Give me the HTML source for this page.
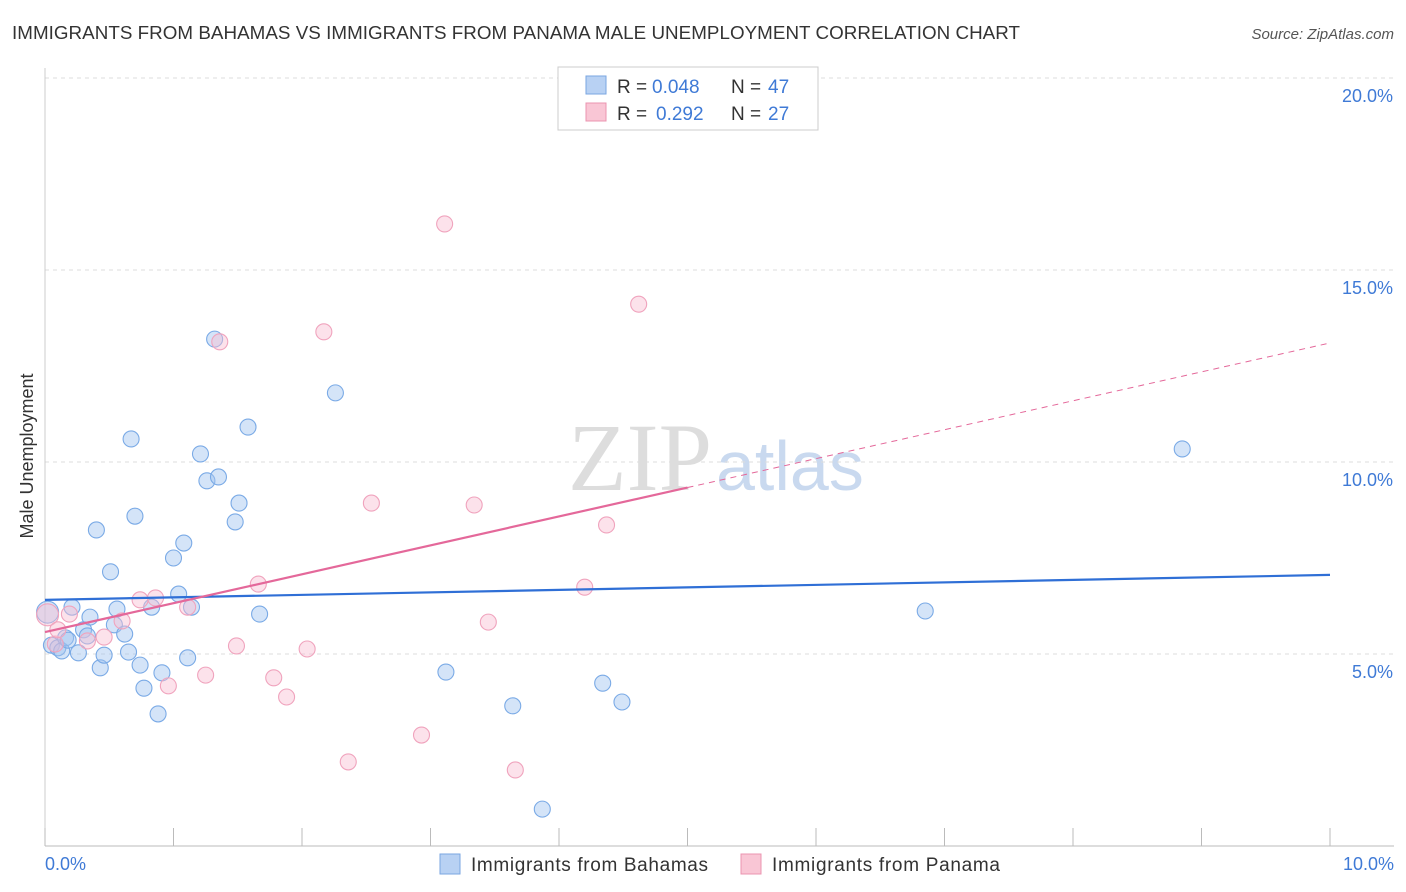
<!DOCTYPE html>
<html><head><meta charset="utf-8"><style>
body{margin:0;background:#fff;font-family:"Liberation Sans",sans-serif;}
#wrap{position:relative;width:1406px;height:892px;overflow:hidden;}
</style></head><body>
<div id="wrap">
<svg id="svg" width="1406" height="892" xmlns="http://www.w3.org/2000/svg">
<text x="12" y="39" font-size="18.8" fill="#333" textLength="1008">IMMIGRANTS FROM BAHAMAS VS IMMIGRANTS FROM PANAMA MALE UNEMPLOYMENT CORRELATION CHART</text>
<text x="1394" y="39" font-size="15" fill="#555" font-style="italic" text-anchor="end">Source: ZipAtlas.com</text>
<text x="712" y="490" font-size="96" fill="#ddd" text-anchor="end" font-family="Liberation Serif,serif">ZIP</text>
<text x="716" y="490" font-size="70" fill="#c9d9ef">atlas</text>
<g id="grid"></g><g id="pts"></g><g id="lines"></g>
<text transform="translate(33,456) rotate(-90)" font-size="18" fill="#333" text-anchor="middle">Male Unemployment</text>
<g>
<rect x="558" y="67" width="260" height="63" fill="#fff" stroke="#ccc"/>
<rect x="586" y="76" width="20" height="18" fill="#b8d1f3" stroke="#7aa6e0"/>
<rect x="586" y="103" width="20" height="18" fill="#f9c6d5" stroke="#eb94b0"/>
<text y="93" font-size="19" fill="#333"><tspan x="617">R =</tspan><tspan x="652" fill="#3f7ad6">0.048</tspan><tspan x="731">N =</tspan><tspan x="768" fill="#3f7ad6">47</tspan></text>
<text y="120" font-size="19" fill="#333"><tspan x="617">R =</tspan><tspan x="656" fill="#3f7ad6">0.292</tspan><tspan x="731">N =</tspan><tspan x="768" fill="#3f7ad6">27</tspan></text>
</g>
<g>
<rect x="440" y="854" width="20" height="20" fill="#b8d1f3" stroke="#7aa6e0"/>
<text x="471" y="871" font-size="19" fill="#333" textLength="237">Immigrants from Bahamas</text>
<rect x="741" y="854" width="20" height="20" fill="#f9c6d5" stroke="#eb94b0"/>
<text x="772" y="871" font-size="19" fill="#333" textLength="228">Immigrants from Panama</text>
</g>
</svg>
</div>
<script>
const yTicks=[5,10,15,20];
const yTickLabels=["5.0%","10.0%","15.0%","20.0%"];
const xTickLabels=["0.0%","10.0%"];
const bahamasX=[0.02,0.05,0.10,0.13,0.16,0.18,0.21,0.26,0.30,0.33,0.35,0.40,0.43,0.46,0.51,0.54,0.56,0.62,0.65,0.67,0.70,0.74,0.77,0.83,0.88,0.91,1.00,1.04,1.08,1.11,1.14,1.21,1.26,1.32,1.35,1.48,1.51,1.58,1.67,2.26,3.12,3.64,3.87,4.34,4.49,6.85,8.85];
const bahamasY=[6.09,5.23,5.16,5.08,5.42,5.36,6.22,5.03,5.63,5.47,5.96,8.23,4.64,4.97,7.14,5.76,6.17,5.52,5.05,10.60,8.59,4.71,4.11,6.22,3.44,4.51,7.50,6.56,7.89,4.90,6.22,10.21,9.51,13.20,9.61,8.44,8.93,10.91,6.04,11.80,4.53,3.65,0.96,4.24,3.75,6.12,10.34];
const panamaX=[0.02,0.08,0.10,0.19,0.33,0.46,0.60,0.74,0.86,0.96,1.11,1.25,1.36,1.49,1.66,1.78,1.88,2.04,2.17,2.36,2.54,2.93,3.11,3.34,3.45,3.66,4.20,4.37,4.62];
const panamaY=[6.02,5.26,5.63,6.04,5.34,5.44,5.86,6.41,6.46,4.17,6.22,4.45,13.13,5.21,6.82,4.38,3.88,5.13,13.39,2.19,8.93,2.89,16.20,8.88,5.83,1.98,6.74,8.36,14.11];
const bahamasTrend=[6.41,7.06];
const panamaTrend=[5.57,13.1];
const NS="http://www.w3.org/2000/svg";
const X=v=>45+v*128.5, Y=v=>846-v*38.4;
function mk(p,t,a){const e=document.createElementNS(NS,t);for(const k in a)e.setAttribute(k,a[k]);p.appendChild(e);return e;}
const g=document.getElementById('grid');
yTicks.forEach((t,i)=>{
 const l=mk(g,'line',{x1:45,x2:1394,y1:Y(t),y2:Y(t),stroke:'#ddd','stroke-dasharray':'4,4'});
 
 
 const tx=mk(g,'text',{x:1393,y:Y(t)+24,'font-size':18,fill:'#3f7ad6','text-anchor':'end'});tx.textContent=yTickLabels[i];
 
 
});
const ax=mk(g,'line',{x1:45,x2:1394,y1:846,y2:846,stroke:'#bbb'});


const ay=mk(g,'line',{x1:45,x2:45,y1:68,y2:846,stroke:'#ccc'});


for(let i=0;i<=10;i++){const t=mk(g,'line',{x1:X(i),x2:X(i),y1:828,y2:846,stroke:'#bbb'});

}
[[0,'start',45],[10,'end',1394]].forEach((d,i)=>{const t=mk(g,'text',{x:d[2],y:870,'font-size':18,fill:'#3f7ad6','text-anchor':d[1]});t.textContent=xTickLabels[i];

});
const p=document.getElementById('pts');
bahamasX.forEach((x,i)=>{const c=mk(p,'circle',{cx:X(x),cy:Y(bahamasY[i]),r:i==0?11:8,fill:'rgba(160,196,240,0.45)',stroke:'#7aaae6','stroke-width':1.1});

});
panamaX.forEach((x,i)=>{const c=mk(p,'circle',{cx:X(x),cy:Y(panamaY[i]),r:i==0?11:8,fill:'rgba(248,190,210,0.45)',stroke:'#f0a3bd','stroke-width':1.1});

});
const L=document.getElementById('lines');
const b=mk(L,'line',{x1:X(0),y1:Y(bahamasTrend[0]),x2:X(10),y2:Y(bahamasTrend[1]),stroke:'#2f6fd6','stroke-width':2.2});


const pm=v=>panamaTrend[0]+(panamaTrend[1]-panamaTrend[0])*v/10;
const ps=mk(L,'line',{x1:X(0),y1:Y(pm(0)),x2:X(5),y2:Y(pm(5)),stroke:'#e4689a','stroke-width':2.2});


const pd=mk(L,'line',{x1:X(5),y1:Y(pm(5)),x2:X(10),y2:Y(pm(10)),stroke:'#e4689a','stroke-width':1,'stroke-dasharray':'6,5'});


</script>
</body></html>
